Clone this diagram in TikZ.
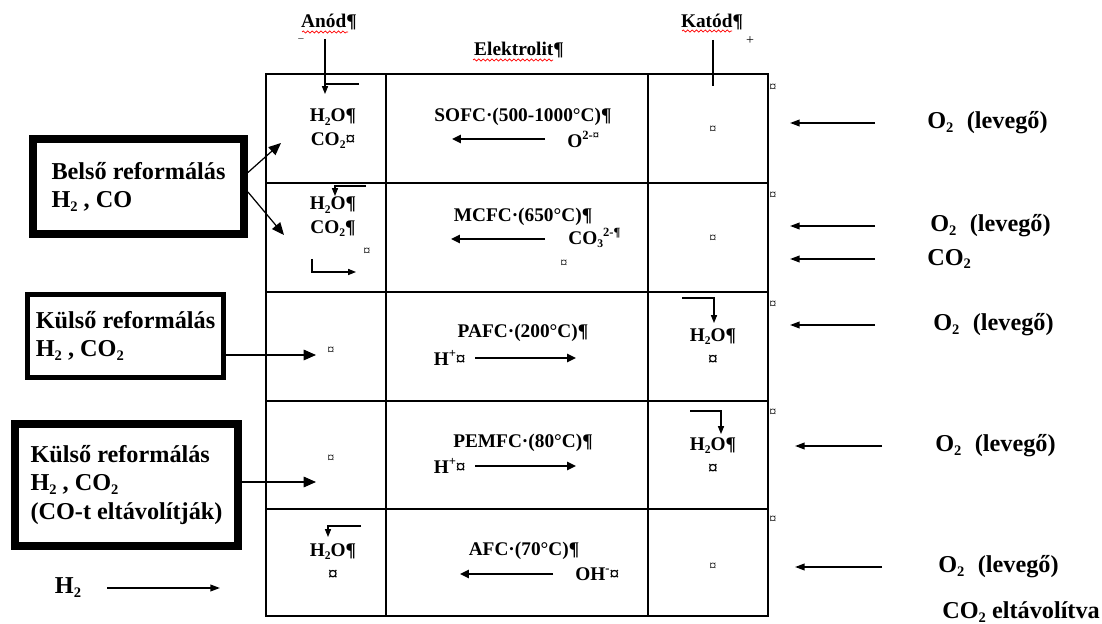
\documentclass[tikz,border=0pt]{standalone}
\usepackage{fontspec}
\setmainfont{Liberation Serif}
\usetikzlibrary{arrows.meta, positioning, decorations.pathmorphing}

% small Word-like sub- and superscripts
\newcommand{\lo}[1]{\raisebox{-0.35ex}{\scalebox{0.6}{#1}}}
\newcommand{\hi}[1]{\raisebox{0.9ex}{\scalebox{0.65}{#1}}}

\begin{document}
\begin{tikzpicture}[x=0.02cm, y=-0.02cm,
    lbl/.style={font=\fontsize{11}{13.5}\selectfont\bfseries, inner sep=0pt, align=center},
    big/.style={font=\fontsize{13.8}{16}\selectfont\bfseries, inner sep=0pt, align=left},
    fmt/.style={font=\fontsize{8}{9}\selectfont, inner sep=0pt},
    grid/.style={line width=0.8pt},
    thinline/.style={line width=0.6pt},
    thinarr/.style={line width=0.6pt, -{Triangle[length=4.5pt,width=3.5pt]}},
    sidearr/.style={line width=0.9pt, -{Triangle[length=5.5pt,width=3.8pt]}},
    ionarr/.style={line width=1.6pt, -{Triangle[length=5pt,width=4.5pt]}},
    boxarr/.style={line width=0.7pt, -{Triangle[length=7pt,width=6pt]}},
    refbox/.style={draw, rectangle, inner sep=2pt, font=\fontsize{13.8}{16}\selectfont\bfseries, align=left},
    spell/.style={red, line width=0.4pt, decorate, decoration={snake, amplitude=0.6pt, segment length=2.5pt}}]

    \useasboundingbox (0,0) rectangle (1102,624);

    % 1. Table frame, rows and columns
    \draw[grid] (266,74) rectangle (768,616);
    \foreach \y in {183,292,401,509}
        \draw[grid] (266,\y) -- (768,\y);
    \foreach \x in {386,648}
        \draw[grid] (\x,74) -- (\x,616);

    % 2. Column headings with poles
    \node[lbl] (anod) at (329,22) {Anód¶};
    \node[font=\fontsize{6}{7}\selectfont, inner sep=0pt] (minus) at (301,40) {--};
    \node[lbl] (elektrolit) at (519,50) {Elektrolit¶};
    \node[lbl] (katod) at (712,22) {Katód¶};
    \node[font=\fontsize{8}{9}\selectfont, inner sep=0pt] (plus) at (750,41) {+};
    \draw[spell] (302,32) -- (348,32);
    \draw[spell] (473,60) -- (553,60);
    \draw[spell] (682,31) -- (732,31);

    \coordinate (a0) at (325,39);
    \coordinate (a1) at (325,84);
    \coordinate (a2) at (359,84);
    \coordinate (a3) at (325,94);
    \draw[thinline] (a0) -- (a1);
    \draw[thinarr] (a2) -- (a1) -- (a3);

    \coordinate (k0) at (713,40);
    \coordinate (k1) at (713,86);
    \draw[thinline] (k0) -- (k1);

    % 3. SOFC row
    \node[lbl] (sofcA) at (333,129) {H\lo{2}O¶\\CO\lo{2}¤};
    \node[lbl] (sofcT) at (523,117) {SOFC·(500-1000°C)¶};
    \node[lbl, anchor=west] (sofcI) at (567,139) {O\hi{2-¤}};
    \coordinate (sofcS) at (545,139);
    \coordinate (sofcE) at (452,139);
    \draw[ionarr] (sofcS) -- (sofcE);
    \node[fmt] (sofcK) at (713,130) {¤};
    \node[fmt] (sofcR) at (773,88) {¤};

    % 4. MCFC row
    \node[lbl] (mcfcA) at (333,217) {H\lo{2}O¶\\CO\lo{2}¶};
    \node[fmt] (mcfcX) at (367,252) {¤};
    \coordinate (m0) at (366,186);
    \coordinate (m1) at (335,186);
    \coordinate (m2) at (335,196);
    \draw[thinarr] (m0) -- (m1) -- (m2);
    \coordinate (m3) at (312,259);
    \coordinate (m4) at (312,272);
    \coordinate (m5) at (356,272);
    \draw[thinarr] (m3) -- (m4) -- (m5);
    \node[lbl] (mcfcT) at (523,217) {MCFC·(650°C)¶};
    \node[lbl, anchor=west] (mcfcI) at (568,238) {CO\lo{3}\hi{2-¶}};
    \node[fmt] (mcfcY) at (564,264) {¤};
    \coordinate (mcfcS) at (545,239);
    \coordinate (mcfcE) at (451,239);
    \draw[ionarr] (mcfcS) -- (mcfcE);
    \node[fmt] (mcfcK) at (713,239) {¤};
    \node[fmt] (mcfcR) at (773,196) {¤};

    % 5. PAFC row
    \node[fmt] (pafcA) at (331,351) {¤};
    \node[lbl] (pafcT) at (523,333) {PAFC·(200°C)¶};
    \node[lbl, anchor=east] (pafcI) at (466,358) {H\hi{+}¤};
    \coordinate (pafcS) at (475,358);
    \coordinate (pafcE) at (576,358);
    \draw[ionarr] (pafcS) -- (pafcE);
    \coordinate (p0) at (682,298);
    \coordinate (p1) at (714,298);
    \coordinate (p2) at (714,323);
    \draw[thinarr] (p0) -- (p1) -- (p2);
    \node[lbl] (pafcK) at (713,347) {H\lo{2}O¶\\¤};
    \node[fmt] (pafcR) at (773,305) {¤};

    % 6. PEMFC row
    \node[fmt] (pemA) at (331,459) {¤};
    \node[lbl] (pemT) at (523,443) {PEMFC·(80°C)¶};
    \node[lbl, anchor=east] (pemI) at (466,466) {H\hi{+}¤};
    \coordinate (pemS) at (475,466);
    \coordinate (pemE) at (576,466);
    \draw[ionarr] (pemS) -- (pemE);
    \coordinate (e0) at (690,411);
    \coordinate (e1) at (721,411);
    \coordinate (e2) at (721,434);
    \draw[thinarr] (e0) -- (e1) -- (e2);
    \node[lbl] (pemK) at (713,456) {H\lo{2}O¶\\¤};
    \node[fmt] (pemR) at (773,413) {¤};

    % 7. AFC row
    \coordinate (f0) at (361,526);
    \coordinate (f1) at (328,526);
    \coordinate (f2) at (328,537);
    \draw[thinarr] (f0) -- (f1) -- (f2);
    \node[lbl] (afcA) at (333,562) {H\lo{2}O¶\\¤};
    \node[lbl] (afcT) at (524,551) {AFC·(70°C)¶};
    \node[lbl, anchor=west] (afcI) at (575,574) {OH\hi{-}¤};
    \coordinate (afcS) at (553,574);
    \coordinate (afcE) at (460,574);
    \draw[ionarr] (afcS) -- (afcE);
    \node[fmt] (afcK) at (713,567) {¤};
    \node[fmt] (afcR) at (773,520) {¤};

    % 8. Fuel boxes on the left
    \node[refbox, line width=4.5pt, minimum width=4.22cm, minimum height=1.9cm] (belso) at (138.5,186.5)
        {Belső reformálás\\H\lo{2} , CO};
    \coordinate (bt1) at (281,143);
    \coordinate (bt2) at (284,235);
    \draw[boxarr] ([yshift=0.28cm]belso.east) -- (bt1);
    \draw[boxarr] ([yshift=-0.11cm]belso.east) -- (bt2);

    \node[refbox, line width=2.8pt, minimum width=3.92cm, minimum height=1.66cm] (kulso1) at (125.5,336)
        {Külső reformálás\\H\lo{2} , CO\lo{2}};
    \coordinate (kt1) at (316,355);
    \draw[boxarr] (kulso1.east |- kt1) -- (kt1);

    \node[refbox, line width=4.5pt, minimum width=4.46cm, minimum height=2.44cm] (kulso2) at (126.5,485)
        {Külső reformálás\\H\lo{2} , CO\lo{2}\\(CO-t eltávolítják)};
    \coordinate (kt2) at (316,482);
    \draw[boxarr] (kulso2.east |- kt2) -- (kt2);

    \node[big] (h2) at (68,588) {H\lo{2}};
    \coordinate (ht) at (220,588);
    \draw[sidearr] (h2.east -| 107,0) -- (ht);

    % 9. Cathode gases on the right
    \node[big, anchor=west] (o1) at (927,123) {O\lo{2}\hspace{0.55em}(levegő)};
    \node[big, anchor=west] (o2) at (930,226) {O\lo{2}\hspace{0.55em}(levegő)};
    \node[big, anchor=west] (co2) at (927,259) {CO\lo{2}};
    \node[big, anchor=west] (o3) at (933,325) {O\lo{2}\hspace{0.55em}(levegő)};
    \node[big, anchor=west] (o4) at (935,446) {O\lo{2}\hspace{0.55em}(levegő)};
    \node[big, anchor=west] (o5) at (938,567) {O\lo{2}\hspace{0.55em}(levegő)};
    \node[big, anchor=west] (co2out) at (942,612) {CO\lo{2} eltávolítva};

    \foreach \n/\xs/\xe in {o1/875/790, o2/875/790, co2/875/790, o3/875/790, o4/882/795, o5/882/795} {
        \coordinate (\n s) at (\xs,0 |- \n.west);
        \coordinate (\n e) at (\xe,0 |- \n.west);
        \draw[sidearr] (\n s) -- (\n e);
    }

\end{tikzpicture}
\end{document}
